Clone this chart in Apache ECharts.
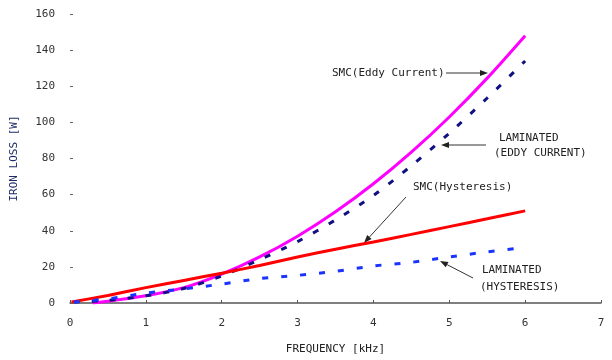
<!DOCTYPE html>
<html><head><meta charset="utf-8">
<script src="https://cdn.jsdelivr.net/npm/echarts@6/dist/echarts.min.js"></script>
<style>html,body{margin:0;padding:0;background:#fff}#c{width:612px;height:360px}</style>
</head><body><div id="c"></div>
<script>
var xTicks = [0,1,2,3,4,5,6,7];
var yTicks = [0,20,40,60,80,100,120,140,160];

var smcEddyFreq = [0.3,0.5,1,1.5,2,2.5,3,3.5,4,4.5,5,5.5,6];
var smcEddyLoss = [0,1,4,8.5,16,25.5,37,50.5,66,83.5,103,124.5,148];

var smcHystFreq = [0.02,0.5,1,1.5,2,2.5,3,3.5,4,4.5,5,5.5,6];
var smcHystLoss = [0.5,4.2,8.5,12.5,16.5,20.8,25.5,29.8,33.8,38,42.3,46.6,51];

var lamEddyFreq = [0.05,0.5,1,1.5,2,2.5,3,3.5,4,4.5,5,5.5,6];
var lamEddyLoss = [0.5,1.5,4,8,15,24,34,46,59.5,76,94,113.5,134];

var lamHystFreq = [0.05,0.5,1,1.5,2,2.5,3,3.5,4,4.5,5,5.5,5.85];
var lamHystLoss = [0.5,2.3,5.5,7.8,10.5,13.5,15.3,17.5,20.5,22.5,25.5,28.3,30];

function pairs(xs, ys){ return xs.map(function(x,i){ return [x, ys[i]]; }); }

var FONT = '"DejaVu Sans Mono", monospace';
var chart = echarts.init(document.getElementById('c'));

function arrow(x1,y1,x2,y2){
  var dx=x2-x1, dy=y2-y1, L=Math.sqrt(dx*dx+dy*dy), ux=dx/L, uy=dy/L;
  var hl=8, hw=3;
  var bx=x2-ux*hl, by=y2-uy*hl;
  return [
    {type:'line', shape:{x1:x1,y1:y1,x2:bx,y2:by}, style:{stroke:'#333',lineWidth:1}},
    {type:'polygon', shape:{points:[[x2,y2],[bx-uy*hw,by+ux*hw],[bx+uy*hw,by-ux*hw]]}, style:{fill:'#222'}}
  ];
}
function txt(x,y,t){
  return {type:'text', x:x, y:y, style:{text:t, font:'11px '+FONT, fill:'#222', textVerticalAlign:'middle'}};
}

var g = [].concat(
  [txt(332,73,'SMC(Eddy Current)')], arrow(446,73,488,73),
  [txt(499,138,'LAMINATED'), txt(494,153,'(EDDY CURRENT)')], arrow(486,145,441,145),
  [txt(413,187,'SMC(Hysteresis)')], arrow(406,197,364,243),
  [txt(482,270,'LAMINATED'), txt(480,287,'(HYSTERESIS)')], arrow(473,278,440,261)
);

chart.setOption({
  animation:false,
  grid:{left:70,right:11,top:14,bottom:56},
  xAxis:{
    type:'value', min:xTicks[0], max:xTicks[xTicks.length-1], interval:1,
    name:'FREQUENCY [kHz]', nameLocation:'middle', nameGap:41,
    nameTextStyle:{fontFamily:FONT,fontSize:11,color:'#222'},
    axisLine:{show:true,lineStyle:{color:'#555',width:1.5}},
    axisTick:{show:true,inside:true,length:3,lineStyle:{color:'#555'}},
    axisLabel:{margin:15,fontFamily:FONT,fontSize:11,color:'#333'},
    splitLine:{show:false}
  },
  yAxis:{
    type:'value', min:yTicks[0], max:yTicks[yTicks.length-1], interval:20,
    name:'IRON LOSS [W]', nameLocation:'middle', nameGap:50, nameRotate:90,
    nameTextStyle:{fontFamily:FONT,fontSize:11,color:'#1c2a66'},
    axisLine:{show:false},
    axisTick:{show:true,inside:true,length:3,lineStyle:{color:'#666'}},
    axisLabel:{margin:15,fontFamily:FONT,fontSize:11,color:'#333'},
    splitLine:{show:false}
  },
  series:[
    {type:'line', name:'SMC(Eddy Current)', data:pairs(smcEddyFreq,smcEddyLoss), smooth:0.3, showSymbol:false,
      lineStyle:{color:'#ff00ff',width:3}},
    {type:'line', name:'LAMINATED(EDDY CURRENT)', data:pairs(lamEddyFreq,lamEddyLoss), smooth:0.3, showSymbol:false,
      lineStyle:{color:'#101080',width:3,type:[6,12]}},
    {type:'line', name:'SMC(Hysteresis)', data:pairs(smcHystFreq,smcHystLoss), smooth:0.2, showSymbol:false,
      lineStyle:{color:'#ff0000',width:3}},
    {type:'line', name:'LAMINATED(HYSTERESIS)', data:pairs(lamHystFreq,lamHystLoss), smooth:0.3, showSymbol:false,
      lineStyle:{color:'#1a33ff',width:3,type:[6,13]}}
  ],
  graphic:g
});
</script></body></html>
